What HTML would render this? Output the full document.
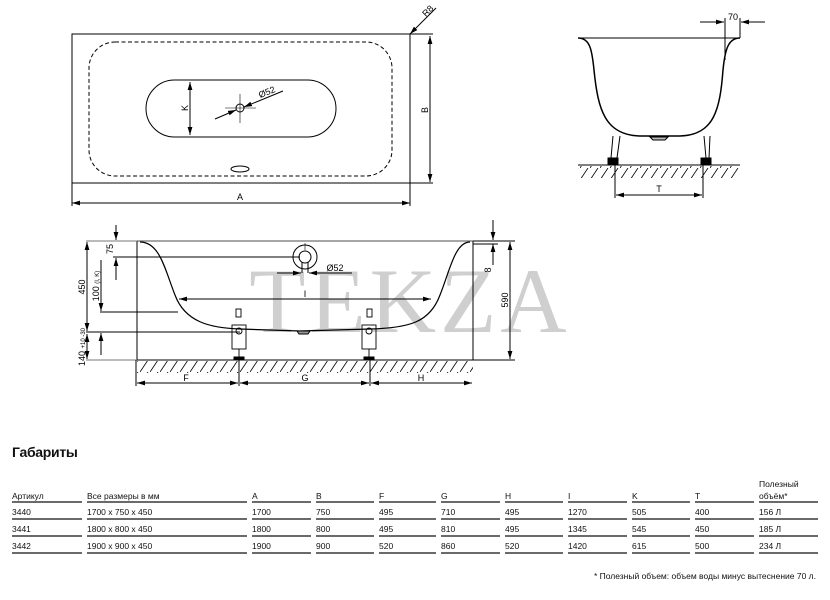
<!DOCTYPE html>
<html><head><meta charset="utf-8"><style>
body{margin:0;background:#fff;width:830px;height:600px;overflow:hidden;font-family:"Liberation Sans",sans-serif}
svg{position:absolute;left:0;top:0}
</style></head><body>
<svg width="830" height="600" viewBox="0 0 830 600" xmlns="http://www.w3.org/2000/svg">
<defs>
<marker id="a" viewBox="0 0 10 6" refX="10" refY="3" markerWidth="8" markerHeight="5" orient="auto-start-reverse"><path d="M0,0L10,3L0,6z" fill="#000"/></marker>
<pattern id="h" width="10" height="12" patternUnits="userSpaceOnUse"><path d="M0,12L8,0" stroke="#000" stroke-width="0.8"/></pattern>
</defs>
<!-- watermark -->
<text x="410" y="332" font-family="Liberation Serif,serif" font-size="92" fill="#cfcfcf" text-anchor="middle" letter-spacing="4">TEKZA</text>
<g fill="none" stroke="#000" stroke-width="1">
<!-- top view -->
<rect x="72" y="34" width="338" height="149"/>
<rect x="89" y="42" width="303" height="134" rx="26" stroke-dasharray="4,2.5"/>
<rect x="146" y="80" width="190" height="57" rx="28.5"/>
<line x1="190" y1="82" x2="190" y2="135" marker-start="url(#a)" marker-end="url(#a)"/>
<circle cx="240" cy="108" r="4"/>
<line x1="240" y1="94" x2="240" y2="123" stroke-width="0.6"/>
<line x1="225" y1="108" x2="256" y2="108" stroke-width="0.6"/>
<line x1="215" y1="119" x2="236" y2="110" marker-end="url(#a)"/>
<line x1="283" y1="91" x2="244" y2="107" marker-end="url(#a)"/>
<ellipse cx="240" cy="169" rx="9" ry="3"/>
<line x1="72" y1="203" x2="410" y2="203" marker-start="url(#a)" marker-end="url(#a)"/>
<line x1="72" y1="183" x2="72" y2="206"/><line x1="410" y1="183" x2="410" y2="206"/>
<line x1="410" y1="34" x2="433" y2="34"/><line x1="410" y1="183" x2="433" y2="183"/>
<line x1="430" y1="36" x2="430" y2="182" marker-start="url(#a)" marker-end="url(#a)"/>
<line x1="436" y1="8" x2="410" y2="34" marker-end="url(#a)"/>
<!-- side view -->
<path d="M578,38 L740,38" />
<path d="M578,38 C590,38 592,50 594,70 C598,110 605,135 640,136 L680,136 C714,135 720,110 723,70 C725,50 728,38 740,38" stroke-width="1.5"/>
<path d="M613,136 L611,158 M620,136 L617,158 M704,136 L706,158 M710,136 L709,158"/>
<path d="M650,137 L668,137 L665,140 L653,140z" fill="#bbb"/>
<rect x="608" y="158" width="10" height="7" fill="#000"/><rect x="701" y="158" width="10" height="7" fill="#000"/>
<line x1="578" y1="165" x2="740" y2="165"/>
<line x1="615" y1="165" x2="615" y2="198"/><line x1="703" y1="165" x2="703" y2="198"/>
<line x1="616" y1="195" x2="702" y2="195" marker-start="url(#a)" marker-end="url(#a)"/>
<line x1="725" y1="18" x2="725" y2="60"/><line x1="740" y1="18" x2="740" y2="38"/>
<line x1="700" y1="22" x2="724" y2="22" marker-end="url(#a)"/><line x1="765" y1="22" x2="741" y2="22" marker-end="url(#a)"/>
<!-- front view -->
<line x1="137" y1="241" x2="473" y2="241" stroke="#888" stroke-width="1.5"/>
<line x1="137" y1="241" x2="137" y2="360"/><line x1="473" y1="241" x2="473" y2="360"/>
<path d="M140,242 C160,242 165,270 175,295 C185,322 210,328 240,329 L300,331 L370,329 C410,328 430,322 440,295 C450,270 455,242 470,242" stroke-width="1.2"/>
<path d="M297,331 L310,331 L308,334 L299,334z" fill="#999"/>
<line x1="137" y1="360" x2="473" y2="360"/>
<circle cx="305" cy="257" r="12"/><circle cx="305" cy="257" r="6"/>
<line x1="302" y1="262" x2="302" y2="273"/><line x1="308" y1="262" x2="308" y2="273"/>
<line x1="305" y1="243" x2="305" y2="250" stroke-width="0.6"/>
<line x1="277" y1="273" x2="301" y2="273" marker-end="url(#a)"/><line x1="352" y1="273" x2="309" y2="273" marker-end="url(#a)"/>
<line x1="179" y1="299" x2="431" y2="299" marker-start="url(#a)" marker-end="url(#a)"/>
<g stroke-width="0.9">
<rect x="232" y="325" width="14" height="24"/><rect x="362" y="325" width="14" height="24"/>
<rect x="236" y="309" width="5" height="8"/><rect x="367" y="309" width="5" height="8"/>
<circle cx="239" cy="331" r="3"/><circle cx="369" cy="331" r="3"/>
<line x1="239" y1="349" x2="239" y2="357"/><line x1="369" y1="349" x2="369" y2="357"/>
</g>
<rect x="234" y="357" width="10" height="3" fill="#000"/><rect x="364" y="357" width="10" height="3" fill="#000"/>
<line x1="86" y1="241" x2="137" y2="241" stroke="#777"/>
<line x1="113" y1="257" x2="300" y2="257"/>
<line x1="100" y1="312" x2="178" y2="312"/>
<line x1="86" y1="332" x2="240" y2="332"/>
<line x1="86" y1="360" x2="137" y2="360" stroke="#777"/>
<line x1="87" y1="242" x2="87" y2="331" marker-start="url(#a)" marker-end="url(#a)"/>
<line x1="87" y1="334" x2="87" y2="359" marker-start="url(#a)" marker-end="url(#a)"/>
<line x1="116" y1="225" x2="116" y2="240" marker-end="url(#a)"/>
<line x1="116" y1="280" x2="116" y2="258" marker-end="url(#a)"/>
<line x1="101" y1="260" x2="101" y2="311" marker-end="url(#a)"/>
<line x1="101" y1="355" x2="101" y2="333" marker-end="url(#a)"/>
<line x1="473" y1="241" x2="515" y2="241"/><line x1="473" y1="360" x2="515" y2="360"/>
<line x1="510" y1="242" x2="510" y2="359" marker-start="url(#a)" marker-end="url(#a)"/>
<line x1="493" y1="220" x2="493" y2="240" marker-end="url(#a)"/>
<line x1="493" y1="265" x2="493" y2="244" marker-end="url(#a)"/>
<line x1="473" y1="244" x2="498" y2="244"/>
<line x1="239" y1="360" x2="239" y2="386"/><line x1="370" y1="360" x2="370" y2="386"/>
<line x1="136" y1="360" x2="136" y2="386"/>
<line x1="137" y1="383" x2="238" y2="383" marker-start="url(#a)" marker-end="url(#a)"/>
<line x1="240" y1="383" x2="369" y2="383" marker-start="url(#a)" marker-end="url(#a)"/>
<line x1="371" y1="383" x2="472" y2="383" marker-start="url(#a)" marker-end="url(#a)"/>
</g>
<rect x="578" y="166" width="162" height="12" fill="url(#h)"/>
<rect x="137" y="361" width="336" height="12" fill="url(#h)"/>
<g font-size="9" fill="#000" font-family="Liberation Sans,sans-serif">
<text x="240" y="200" text-anchor="middle">A</text>
<text transform="translate(428,110) rotate(-90)" text-anchor="middle">B</text>
<text transform="translate(188,108) rotate(-90)" text-anchor="middle">K</text>
<text transform="translate(268,95) rotate(-22)" text-anchor="middle">Ø52</text>
<text transform="translate(430,13) rotate(-45)" text-anchor="middle">R8</text>
<text x="733" y="20" text-anchor="middle">70</text>
<text x="659" y="192" text-anchor="middle">T</text>
<text x="335" y="271" text-anchor="middle">Ø52</text>
<text x="305" y="297" text-anchor="middle">I</text>
<text x="186" y="381" text-anchor="middle">F</text>
<text x="305" y="381" text-anchor="middle">G</text>
<text x="421" y="381" text-anchor="middle">H</text>
<text transform="translate(85,287) rotate(-90)" text-anchor="middle">450</text>
<text transform="translate(113,249) rotate(-90)" text-anchor="middle">75</text>
<text transform="translate(99,286) rotate(-90)" text-anchor="middle">100 <tspan font-size="6">(I, K)</tspan></text>
<text transform="translate(85,347) rotate(-90)" text-anchor="middle">140 <tspan font-size="6">+10 -30</tspan></text>
<text transform="translate(508,300) rotate(-90)" text-anchor="middle">590</text>
<text transform="translate(491,270) rotate(-90)" text-anchor="middle">8</text>
</g>
<!-- table -->
<g font-family="Liberation Sans,sans-serif" fill="#111">
<text x="12" y="457" font-size="14" font-weight="bold" letter-spacing="-0.3">Габариты</text>
<g font-size="8.5">
<text x="759" y="487">Полезный</text>
<text x="12" y="499">Артикул</text><text x="87" y="499">Все размеры в мм</text><text x="252" y="499">A</text><text x="316" y="499">B</text><text x="379" y="499">F</text><text x="441" y="499">G</text><text x="505" y="499">H</text><text x="568" y="499">I</text><text x="632" y="499">K</text><text x="695" y="499">T</text><text x="759" y="499">объём*</text>
<text x="12" y="515">3440</text><text x="87" y="515">1700 x 750 x 450</text><text x="252" y="515">1700</text><text x="316" y="515">750</text><text x="379" y="515">495</text><text x="441" y="515">710</text><text x="505" y="515">495</text><text x="568" y="515">1270</text><text x="632" y="515">505</text><text x="695" y="515">400</text><text x="759" y="515">156 Л</text>
<text x="12" y="532">3441</text><text x="87" y="532">1800 x 800 x 450</text><text x="252" y="532">1800</text><text x="316" y="532">800</text><text x="379" y="532">495</text><text x="441" y="532">810</text><text x="505" y="532">495</text><text x="568" y="532">1345</text><text x="632" y="532">545</text><text x="695" y="532">450</text><text x="759" y="532">185 Л</text>
<text x="12" y="549">3442</text><text x="87" y="549">1900 x 900 x 450</text><text x="252" y="549">1900</text><text x="316" y="549">900</text><text x="379" y="549">520</text><text x="441" y="549">860</text><text x="505" y="549">520</text><text x="568" y="549">1420</text><text x="632" y="549">615</text><text x="695" y="549">500</text><text x="759" y="549">234 Л</text>
<text x="816" y="579" text-anchor="end">* Полезный объем: объем воды минус вытеснение 70 л.</text>
</g>
<g stroke="#111" stroke-width="1.2">
<path d="M12,502H82M87,502H247M252,502H311M316,502H374M379,502H436M441,502H500M505,502H563M568,502H627M632,502H690M695,502H754M759,502H818"/>
<path d="M12,519H82M87,519H247M252,519H311M316,519H374M379,519H436M441,519H500M505,519H563M568,519H627M632,519H690M695,519H754M759,519H818"/>
<path d="M12,536H82M87,536H247M252,536H311M316,536H374M379,536H436M441,536H500M505,536H563M568,536H627M632,536H690M695,536H754M759,536H818"/>
<path d="M12,553H82M87,553H247M252,553H311M316,553H374M379,553H436M441,553H500M505,553H563M568,553H627M632,553H690M695,553H754M759,553H818"/>
</g>
</g>
</svg>
</body></html>
